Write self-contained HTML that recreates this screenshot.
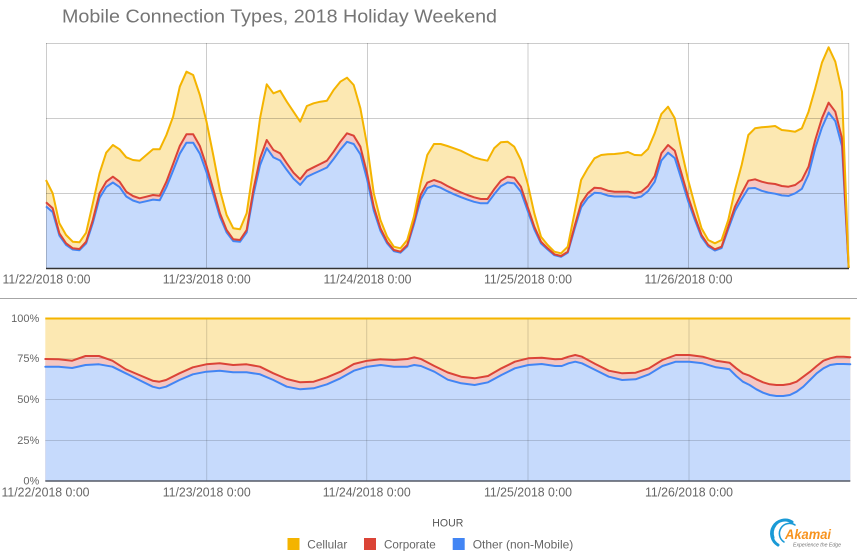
<!DOCTYPE html>
<html>
<head>
<meta charset="utf-8">
<style>
  html, body { margin: 0; padding: 0; background: #ffffff; }
  svg { display: block; }
  text { font-family: "Liberation Sans", Arial, sans-serif; }
</style>
</head>
<body>
<svg width="857" height="560" viewBox="0 0 857 560" xmlns="http://www.w3.org/2000/svg">
  <rect x="0" y="0" width="857" height="560" fill="#ffffff"/>

  <!-- Title -->
  <text x="62" y="22.7" font-size="18.5" fill="#757575" textLength="435" lengthAdjust="spacingAndGlyphs">Mobile Connection Types, 2018 Holiday Weekend</text>

  <!-- ================= TOP CHART ================= -->
  <g transform="translate(46 0) scale(6.689 1)">
    <polygon fill="#fce8b2" stroke="none" points="0,268 0,180 1,193.3 2,223.3 3,235 4,241.7 5,242.3 6,232.7 7,203.3 8,173.3 9,152.7 10,145 11,149.3 12,157.3 13,160 14,160.7 15,155 16,149.3 17,149.3 18,135 19,116.7 20,86.7 21,71.7 22,75 23,95 24,121.7 25,155 26,190 27,215 28,228.3 29,229.3 30,213.3 31,168 32,118.3 33,84.3 34,93.3 35,90.7 36,101.7 37,111.7 38,121.7 39,106 40,103.3 41,101.7 42,100.7 43,90 44,81.7 45,77.7 46,85 47,108.3 48,145 49,193.3 50,220 51,236.7 52,246.7 53,248.3 54,240 55,216.7 56,183.3 57,155 58,144 59,144 60,146 61,148.3 62,150.7 63,154 64,157.3 65,159.3 66,160.7 67,148.3 68,142.3 69,141.7 70,146.7 71,160 72,183.3 73,213.3 74,236.7 75,245 76,251.7 77,253.3 78,246.7 79,213.3 80,180 81,168.3 82,158.3 83,155 84,154.3 85,154 86,153.3 87,152 88,155 89,155.3 90,149 91,133.3 92,114 93,106.7 94,118.3 95,150 96,180 97,205 98,228.3 99,240 100,243.3 101,240 102,220 103,190 104,165 105,135 106,128.3 107,127.3 108,126.7 109,126 110,130 111,130.7 112,131.7 113,128.3 114,111.7 115,88.3 116,62.7 117,47.3 118,61.7 119,91.7 120,268"/>
    <polygon fill="#f4c7c3" stroke="none" points="0,268 0,202.3 1,208.3 2,233.3 3,243.3 4,248.3 5,249 6,241.7 7,220 8,193.3 9,181.7 10,176.7 11,181.7 12,191.7 13,196 14,198.3 15,196.7 16,195 17,195.7 18,181.7 19,164 20,146 21,134.3 22,134.3 23,146 24,166 25,189.3 26,213.3 27,230 28,239.3 29,240 30,230 31,190 32,158.3 33,140 34,150 35,153.3 36,163.3 37,172.7 38,179.3 39,170.7 40,167.3 41,164 42,160.7 43,151.7 44,141.7 45,133.3 46,135.7 47,146.7 48,173.3 49,206.7 50,228.3 51,241.7 52,250 53,251.7 54,245 55,221.7 56,195 57,182.7 58,180 59,182.3 60,186 61,189.3 62,192.3 63,195 64,197.3 65,199 66,199 67,189.3 68,180.7 69,176.7 70,177.7 71,186.7 72,206.7 73,226.7 74,241.7 75,248.3 76,254.3 77,256 78,251.7 79,226.7 80,203.3 81,193.3 82,187.7 83,188.3 84,190.7 85,191.7 86,191.7 87,191.7 88,193.3 89,191.7 90,186 91,176 92,153.3 93,145 94,150.7 95,173.3 96,196.7 97,216.7 98,235 99,245 100,249.3 101,246.7 102,226.7 103,206.7 104,193.3 105,180.7 106,179.3 107,181.7 108,183.3 109,184 110,186 111,186.7 112,185 113,180 114,166.7 115,140 116,118.3 117,102.7 118,111.7 119,138.3 120,268"/>
    <polygon fill="#c6dafc" stroke="none" points="0,268 0,206.4 1,212.1 2,235.5 3,244.9 4,249.5 5,250.2 6,243.4 7,223 8,198 9,187.1 10,182.5 11,187.1 12,196.5 13,200.5 14,202.7 15,201.2 16,199.6 17,200.3 18,187.1 19,170.6 20,153.7 21,142.7 22,142.7 23,153.7 24,172.4 25,194.3 26,216.7 27,232.4 28,241.1 29,241.8 30,232.4 31,194.9 32,165.2 33,148.1 34,157.4 35,160.5 36,169.9 37,178.7 38,184.9 39,176.8 40,173.6 41,170.6 42,167.5 43,159 44,149.7 45,141.8 46,144 47,154.3 48,179.3 49,210.6 50,230.8 51,243.4 52,251.1 53,252.7 54,246.4 55,224.6 56,199.6 57,188.1 58,185.5 59,187.7 60,191.2 61,194.3 62,197.1 63,199.6 64,201.8 65,203.3 66,203.3 67,194.3 68,186.2 69,182.5 70,183.4 71,191.8 72,210.6 73,229.3 74,243.4 75,249.5 76,255.2 77,256.8 78,252.7 79,229.3 80,207.4 81,198 82,192.8 83,193.3 84,195.6 85,196.5 86,196.5 87,196.5 88,198 89,196.5 90,191.2 91,181.8 92,160.5 93,152.7 94,158.1 95,179.3 96,201.2 97,219.9 98,237.1 99,246.4 100,250.5 101,248.1 102,229 103,210.9 104,199.1 105,188.4 106,188 107,190.8 108,192.6 109,193.7 110,195.4 111,195.9 112,193.3 113,188.8 114,174.4 115,148.2 116,127.6 117,112.6 118,121.1 119,146.1 120,268"/>
  </g>

  <!-- top gridlines -->
  <g stroke="rgba(0,0,0,0.2)" stroke-width="1" fill="none">
    <line x1="46" y1="43.5" x2="848.7" y2="43.5"/>
    <line x1="46" y1="118.5" x2="848.7" y2="118.5"/>
    <line x1="46" y1="193.5" x2="848.7" y2="193.5"/>
    <line x1="46.5" y1="43" x2="46.5" y2="268"/>
    <line x1="206.5" y1="43" x2="206.5" y2="268"/>
    <line x1="367.5" y1="43" x2="367.5" y2="268"/>
    <line x1="528" y1="43" x2="528" y2="268"/>
    <line x1="688.5" y1="43" x2="688.5" y2="268"/>
    <line x1="848.7" y1="43" x2="848.7" y2="268"/>
  </g>

  <g transform="translate(46 0) scale(6.689 1)" fill="none" stroke-linejoin="round">
    <polyline stroke="#4285f4" stroke-width="2" vector-effect="non-scaling-stroke" points="0,206.4 1,212.1 2,235.5 3,244.9 4,249.5 5,250.2 6,243.4 7,223 8,198 9,187.1 10,182.5 11,187.1 12,196.5 13,200.5 14,202.7 15,201.2 16,199.6 17,200.3 18,187.1 19,170.6 20,153.7 21,142.7 22,142.7 23,153.7 24,172.4 25,194.3 26,216.7 27,232.4 28,241.1 29,241.8 30,232.4 31,194.9 32,165.2 33,148.1 34,157.4 35,160.5 36,169.9 37,178.7 38,184.9 39,176.8 40,173.6 41,170.6 42,167.5 43,159 44,149.7 45,141.8 46,144 47,154.3 48,179.3 49,210.6 50,230.8 51,243.4 52,251.1 53,252.7 54,246.4 55,224.6 56,199.6 57,188.1 58,185.5 59,187.7 60,191.2 61,194.3 62,197.1 63,199.6 64,201.8 65,203.3 66,203.3 67,194.3 68,186.2 69,182.5 70,183.4 71,191.8 72,210.6 73,229.3 74,243.4 75,249.5 76,255.2 77,256.8 78,252.7 79,229.3 80,207.4 81,198 82,192.8 83,193.3 84,195.6 85,196.5 86,196.5 87,196.5 88,198 89,196.5 90,191.2 91,181.8 92,160.5 93,152.7 94,158.1 95,179.3 96,201.2 97,219.9 98,237.1 99,246.4 100,250.5 101,248.1 102,229 103,210.9 104,199.1 105,188.4 106,188 107,190.8 108,192.6 109,193.7 110,195.4 111,195.9 112,193.3 113,188.8 114,174.4 115,148.2 116,127.6 117,112.6 118,121.1 119,146.1 120,268"/>
    <polyline stroke="#db4437" stroke-width="2" vector-effect="non-scaling-stroke" points="0,202.3 1,208.3 2,233.3 3,243.3 4,248.3 5,249 6,241.7 7,220 8,193.3 9,181.7 10,176.7 11,181.7 12,191.7 13,196 14,198.3 15,196.7 16,195 17,195.7 18,181.7 19,164 20,146 21,134.3 22,134.3 23,146 24,166 25,189.3 26,213.3 27,230 28,239.3 29,240 30,230 31,190 32,158.3 33,140 34,150 35,153.3 36,163.3 37,172.7 38,179.3 39,170.7 40,167.3 41,164 42,160.7 43,151.7 44,141.7 45,133.3 46,135.7 47,146.7 48,173.3 49,206.7 50,228.3 51,241.7 52,250 53,251.7 54,245 55,221.7 56,195 57,182.7 58,180 59,182.3 60,186 61,189.3 62,192.3 63,195 64,197.3 65,199 66,199 67,189.3 68,180.7 69,176.7 70,177.7 71,186.7 72,206.7 73,226.7 74,241.7 75,248.3 76,254.3 77,256 78,251.7 79,226.7 80,203.3 81,193.3 82,187.7 83,188.3 84,190.7 85,191.7 86,191.7 87,191.7 88,193.3 89,191.7 90,186 91,176 92,153.3 93,145 94,150.7 95,173.3 96,196.7 97,216.7 98,235 99,245 100,249.3 101,246.7 102,226.7 103,206.7 104,193.3 105,180.7 106,179.3 107,181.7 108,183.3 109,184 110,186 111,186.7 112,185 113,180 114,166.7 115,140 116,118.3 117,102.7 118,111.7 119,138.3 120,268"/>
    <polyline stroke="#f4b400" stroke-width="2" vector-effect="non-scaling-stroke" points="0,180 1,193.3 2,223.3 3,235 4,241.7 5,242.3 6,232.7 7,203.3 8,173.3 9,152.7 10,145 11,149.3 12,157.3 13,160 14,160.7 15,155 16,149.3 17,149.3 18,135 19,116.7 20,86.7 21,71.7 22,75 23,95 24,121.7 25,155 26,190 27,215 28,228.3 29,229.3 30,213.3 31,168 32,118.3 33,84.3 34,93.3 35,90.7 36,101.7 37,111.7 38,121.7 39,106 40,103.3 41,101.7 42,100.7 43,90 44,81.7 45,77.7 46,85 47,108.3 48,145 49,193.3 50,220 51,236.7 52,246.7 53,248.3 54,240 55,216.7 56,183.3 57,155 58,144 59,144 60,146 61,148.3 62,150.7 63,154 64,157.3 65,159.3 66,160.7 67,148.3 68,142.3 69,141.7 70,146.7 71,160 72,183.3 73,213.3 74,236.7 75,245 76,251.7 77,253.3 78,246.7 79,213.3 80,180 81,168.3 82,158.3 83,155 84,154.3 85,154 86,153.3 87,152 88,155 89,155.3 90,149 91,133.3 92,114 93,106.7 94,118.3 95,150 96,180 97,205 98,228.3 99,240 100,243.3 101,240 102,220 103,190 104,165 105,135 106,128.3 107,127.3 108,126.7 109,126 110,130 111,130.7 112,131.7 113,128.3 114,111.7 115,88.3 116,62.7 117,47.3 118,61.7 119,91.7 120,268"/>
  </g>
  <line x1="46" y1="268.5" x2="849" y2="268.5" stroke="#333333" stroke-width="1.5"/>

  <!-- top x labels -->
  <g font-size="13" fill="#666666" text-anchor="middle">
    <text x="46.5" y="283.3" textLength="88" lengthAdjust="spacingAndGlyphs">11/22/2018 0:00</text>
    <text x="206.7" y="283.3" textLength="88" lengthAdjust="spacingAndGlyphs">11/23/2018 0:00</text>
    <text x="367.5" y="283.3" textLength="88" lengthAdjust="spacingAndGlyphs">11/24/2018 0:00</text>
    <text x="528" y="283.3" textLength="88" lengthAdjust="spacingAndGlyphs">11/25/2018 0:00</text>
    <text x="688.5" y="283.3" textLength="88" lengthAdjust="spacingAndGlyphs">11/26/2018 0:00</text>
  </g>

  <!-- separator -->
  <line x1="0" y1="298.5" x2="857" y2="298.5" stroke="#a6a6a6" stroke-width="1"/>

  <!-- ================= BOTTOM CHART ================= -->
  <rect x="45.3" y="318" width="805" height="163" fill="#fce8b2"/>
  <g transform="translate(45.3 0) scale(6.708 1)">
    <polygon fill="#f4c7c3" stroke="none" points="0,481 0,359 2,359.3 4,360.7 6,356 8,356 10,360.7 12,369.3 14,375 16,380.7 17,381.7 18,380 20,373.3 22,367.3 24,364.3 26,363.3 28,365 30,364.3 32,366.7 34,373.3 36,379 38,382.3 40,381.7 42,377.3 44,371.7 46,364 48,360.7 50,359.3 52,360 54,359 55,357.3 56,359 58,366 60,372.5 62,376.7 64,378.3 66,376 68,368.3 70,361.7 72,358.3 74,357.7 76,359.3 77,359 78,356.7 79,355 80,356.7 82,364 84,370.7 86,373.3 88,372.7 90,368.3 92,360 94,355 96,355 98,356.7 100,360.7 101,361.7 102,362.7 103,368.3 104,373.3 105,375.7 106,379.3 107,382.3 108,384.3 109,385 110,385 111,384 112,381.7 113,376.7 114,371.7 115,366 116,360.7 117,358.3 118,356.7 119,356.7 120,357.3 120,481"/>
    <polygon fill="#c6dafc" stroke="none" points="0,481 0,366.7 2,366.7 4,368 6,365 8,364.3 10,366.7 12,373.3 14,380 16,386.7 17,388.3 18,386.7 20,380 22,374.3 24,371.7 26,370.7 28,372.3 30,372.3 32,374.3 34,380 36,386.7 38,389.3 40,388.3 42,384.3 44,378.3 46,370.7 48,366.7 50,365 52,366.7 54,366.7 55,365 56,366 58,371.7 60,379.7 62,383.3 64,385 66,382.3 68,375 70,368.3 72,365 74,364 76,366 77,366 78,363.3 79,361.7 80,363.3 82,370 84,376.7 86,380 88,379.3 90,374.3 92,366 94,361.7 96,361.7 98,363.3 100,367.3 101,368.3 102,369.3 103,376 104,381.7 105,385 106,389.3 107,392.7 108,395 109,396 110,396 111,395 112,391.7 113,386.7 114,380 115,373.3 116,368.3 117,365 118,364 119,364 120,364.3 120,481"/>
  </g>

  <!-- bottom gridlines -->
  <g stroke="rgba(0,0,0,0.15)" stroke-width="1" fill="none">
    <line x1="45.3" y1="358.5" x2="850.3" y2="358.5"/>
    <line x1="45.3" y1="399.5" x2="850.3" y2="399.5"/>
    <line x1="45.3" y1="440.5" x2="850.3" y2="440.5"/>
    <line x1="206.7" y1="318" x2="206.7" y2="481"/>
    <line x1="366.7" y1="318" x2="366.7" y2="481"/>
    <line x1="528" y1="318" x2="528" y2="481"/>
    <line x1="689" y1="318" x2="689" y2="481"/>
  </g>

  <g transform="translate(45.3 0) scale(6.708 1)" fill="none" stroke-linejoin="round" stroke-linecap="round">
    <polyline stroke="#4285f4" stroke-width="2" vector-effect="non-scaling-stroke" points="0,366.7 2,366.7 4,368 6,365 8,364.3 10,366.7 12,373.3 14,380 16,386.7 17,388.3 18,386.7 20,380 22,374.3 24,371.7 26,370.7 28,372.3 30,372.3 32,374.3 34,380 36,386.7 38,389.3 40,388.3 42,384.3 44,378.3 46,370.7 48,366.7 50,365 52,366.7 54,366.7 55,365 56,366 58,371.7 60,379.7 62,383.3 64,385 66,382.3 68,375 70,368.3 72,365 74,364 76,366 77,366 78,363.3 79,361.7 80,363.3 82,370 84,376.7 86,380 88,379.3 90,374.3 92,366 94,361.7 96,361.7 98,363.3 100,367.3 101,368.3 102,369.3 103,376 104,381.7 105,385 106,389.3 107,392.7 108,395 109,396 110,396 111,395 112,391.7 113,386.7 114,380 115,373.3 116,368.3 117,365 118,364 119,364 120,364.3"/>
    <polyline stroke="#db4437" stroke-width="2" vector-effect="non-scaling-stroke" points="0,359 2,359.3 4,360.7 6,356 8,356 10,360.7 12,369.3 14,375 16,380.7 17,381.7 18,380 20,373.3 22,367.3 24,364.3 26,363.3 28,365 30,364.3 32,366.7 34,373.3 36,379 38,382.3 40,381.7 42,377.3 44,371.7 46,364 48,360.7 50,359.3 52,360 54,359 55,357.3 56,359 58,366 60,372.5 62,376.7 64,378.3 66,376 68,368.3 70,361.7 72,358.3 74,357.7 76,359.3 77,359 78,356.7 79,355 80,356.7 82,364 84,370.7 86,373.3 88,372.7 90,368.3 92,360 94,355 96,355 98,356.7 100,360.7 101,361.7 102,362.7 103,368.3 104,373.3 105,375.7 106,379.3 107,382.3 108,384.3 109,385 110,385 111,384 112,381.7 113,376.7 114,371.7 115,366 116,360.7 117,358.3 118,356.7 119,356.7 120,357.3"/>
  </g>
  <line x1="45.3" y1="318.5" x2="850.3" y2="318.5" stroke="#f4b400" stroke-width="2"/>
  <line x1="45.3" y1="481" x2="850.3" y2="481" stroke="#555a66" stroke-width="1.5"/>

  <!-- bottom y labels -->
  <g font-size="11" fill="#666666" text-anchor="end">
    <text x="39.3" y="322.2">100%</text>
    <text x="39.3" y="362.2">75%</text>
    <text x="39.3" y="403.2">50%</text>
    <text x="39.3" y="444">25%</text>
    <text x="39.3" y="484.6">0%</text>
  </g>

  <!-- bottom x labels -->
  <g font-size="13" fill="#666666" text-anchor="middle">
    <text x="45.5" y="496.7" textLength="88" lengthAdjust="spacingAndGlyphs">11/22/2018 0:00</text>
    <text x="206.7" y="496.7" textLength="88" lengthAdjust="spacingAndGlyphs">11/23/2018 0:00</text>
    <text x="366.7" y="496.7" textLength="88" lengthAdjust="spacingAndGlyphs">11/24/2018 0:00</text>
    <text x="528" y="496.7" textLength="88" lengthAdjust="spacingAndGlyphs">11/25/2018 0:00</text>
    <text x="689" y="496.7" textLength="88" lengthAdjust="spacingAndGlyphs">11/26/2018 0:00</text>
  </g>

  <!-- axis title -->
  <text x="432.3" y="526.7" font-size="11" fill="#555555" textLength="31" lengthAdjust="spacingAndGlyphs">HOUR</text>

  <!-- legend -->
  <rect x="287.5" y="538" width="12" height="12" fill="#f4b400"/>
  <text x="307.3" y="548.3" font-size="12" fill="#666666" textLength="40" lengthAdjust="spacingAndGlyphs">Cellular</text>
  <rect x="364" y="538" width="12" height="12" fill="#db4437"/>
  <text x="384" y="548.3" font-size="12" fill="#666666" textLength="51.7" lengthAdjust="spacingAndGlyphs">Corporate</text>
  <rect x="452.7" y="538" width="12" height="12" fill="#4285f4"/>
  <text x="472.7" y="548.3" font-size="12" fill="#666666" textLength="100.6" lengthAdjust="spacingAndGlyphs">Other (non-Mobile)</text>

  <!-- Akamai logo -->
  <g fill="none" stroke="#1a9ad6" stroke-linecap="round">
    <path d="M 792 522 A 12 12 0 0 0 778 545" stroke-width="3"/>
    <path d="M 795 525 A 9 9 0 0 0 784 542" stroke-width="1.6"/>
    <path d="M 788 519.5 A 14 14 0 0 0 774 538" stroke-width="1.2"/>
  </g>
  <text x="785" y="539" font-size="14" font-weight="bold" font-style="italic" fill="#f7931e" textLength="46" lengthAdjust="spacingAndGlyphs">Akamai</text>
  <text x="793" y="546.5" font-size="5" font-style="italic" fill="#777777" textLength="48" lengthAdjust="spacingAndGlyphs">Experience the Edge</text>
</svg>
</body>
</html>
